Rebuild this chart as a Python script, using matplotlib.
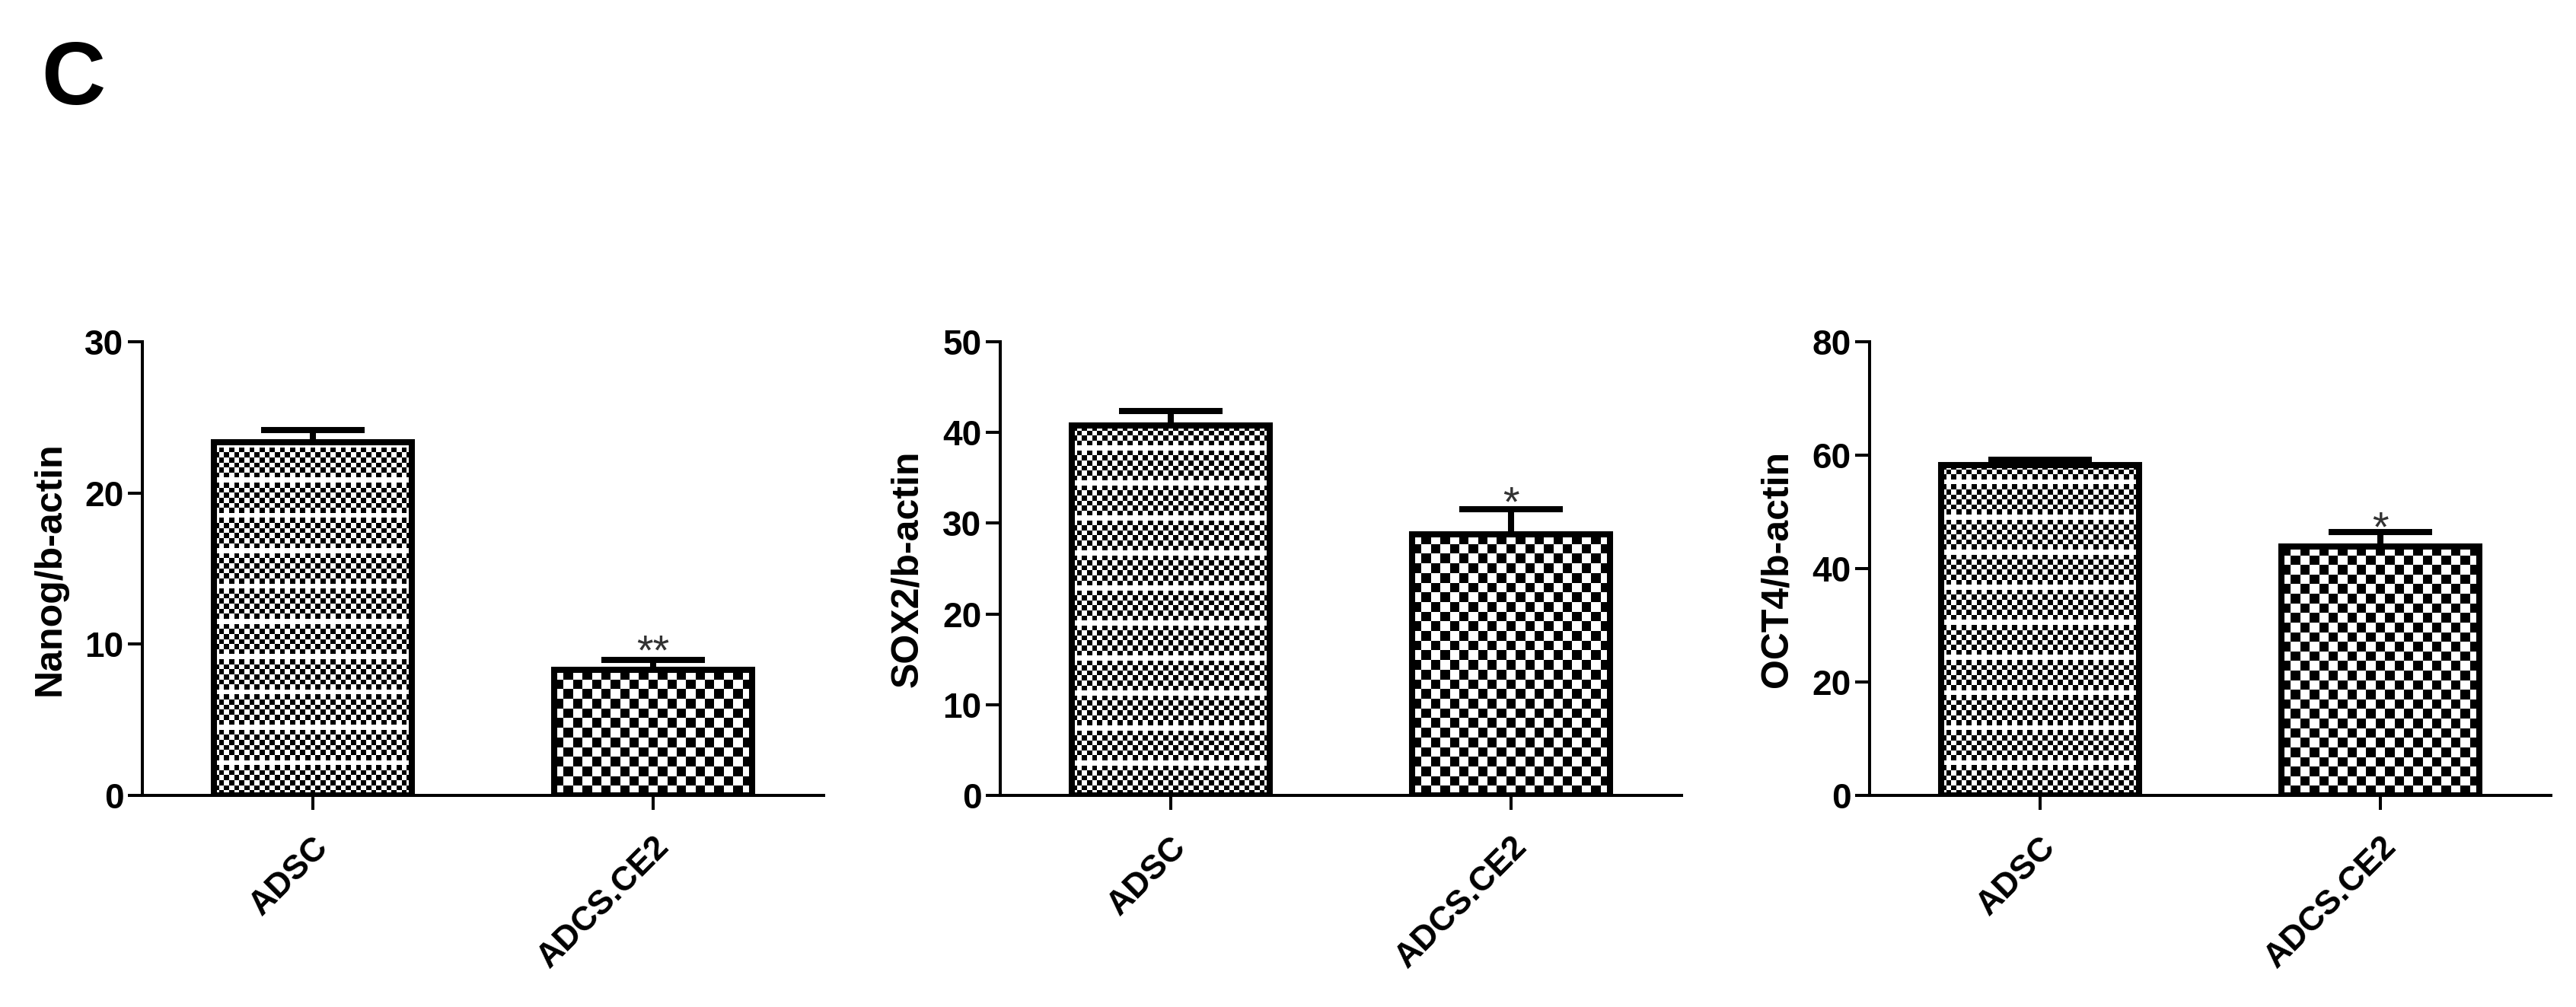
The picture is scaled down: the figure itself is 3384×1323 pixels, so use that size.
import numpy as np
import matplotlib.pyplot as plt

# data
groups = ["ADSC", "ADCS.CE2"]
ylabels = ["Nanog/b-actin", "SOX2/b-actin", "OCT4/b-actin"]
ymax = [30, 50, 80]
ystep = [10, 10, 20]
nanog = [23.35, 8.3]
nanog_err = [0.82, 0.67]
sox2 = [40.74, 28.74]
sox2_err = [1.64, 2.84]
oct4 = [58.3, 43.9]
oct4_err = [0.95, 2.5]
stars = ["**", "*", "*"]
star_y = [10.3, 33.6, 49.3]

values = [nanog, sox2, oct4]
errors = [nanog_err, sox2_err, oct4_err]

plt.rcParams['font.family'] = ['Liberation Sans', 'DejaVu Sans']

W, H = 3384, 1323
fig = plt.figure(figsize=(W / 100, H / 100), dpi=100)

lw = 2.9      # axis line width (pt)
edge = 5.8    # bar edge / error bar width (pt)


def checker(ax, bar, cell, gap_every=None):
    """fill a bar with a checkerboard of `cell` pixels"""
    x0, y0 = bar.get_x(), bar.get_y()
    x1, y1 = x0 + bar.get_width(), y0 + bar.get_height()
    (px0, py0), (px1, py1) = ax.transData.transform([(x0, y0), (x1, y1)])
    nx = max(1, int(round((px1 - px0) / cell)))
    ny = max(1, int(round((py1 - py0) / cell)))
    i, j = np.indices((ny, nx))
    cb = ((i + j) % 2).astype(float)
    if gap_every:
        cb[(i % gap_every) == gap_every - 1] = 0
    ax.imshow(cb, extent=(x0, x1, y0, y1), origin='lower', cmap='gray_r',
              vmin=0, vmax=1, interpolation='nearest', aspect='auto',
              clip_path=bar, zorder=2)


lefts = [187, 1314, 2456]
x = np.arange(len(groups))
for k in range(3):
    ax = fig.add_axes([lefts[k] / W, 1 - 1045 / H, 895 / W, 596 / H])
    ax.set_xlim(-0.5, 1.5)
    ax.set_ylim(0, ymax[k])

    bars = ax.bar(x, values[k], width=0.58, facecolor='none',
                  edgecolor='black', linewidth=edge, zorder=3)
    checker(ax, bars[0], 6.6, gap_every=7)
    checker(ax, bars[1], 12.5)
    ax.errorbar(x, values[k], yerr=[np.zeros(2), errors[k]], fmt='none',
                ecolor='black', elinewidth=edge, capsize=49, capthick=edge,
                zorder=4)
    ax.annotate(stars[k], xy=(1, star_y[k]), xytext=(0, -0.585 * 40),
                textcoords='offset points', ha='center', va='baseline',
                fontsize=40, color='0.2')

    ax.set_xlim(-0.5, 1.5)
    ax.set_ylim(0, ymax[k])
    ax.set_yticks(np.arange(0, ymax[k] + 1, ystep[k]))
    ax.set_xticks(x)
    ax.set_xticklabels(groups, rotation=45, ha='right', va='top',
                       rotation_mode='anchor', fontsize=32,
                       fontweight='bold')
    for lab in ax.get_yticklabels():
        lab.set_fontweight('bold')
    ax.tick_params(axis='y', labelsize=33, length=13.7, width=lw, pad=4)
    ax.tick_params(axis='x', length=13.7, width=lw, pad=20)
    for s in ['top', 'right']:
        ax.spines[s].set_visible(False)
    for s in ['left', 'bottom']:
        ax.spines[s].set_linewidth(lw)
    ax.set_ylabel(ylabels[k], fontsize=36, fontweight='bold')
    ax.yaxis.set_label_coords(-0.11, 0.5)

fig.text(54 / W, 1 - 137 / H, "C", fontsize=84, fontweight='bold',
         va='baseline', ha='left')

fig.savefig("out.png", dpi=100)
